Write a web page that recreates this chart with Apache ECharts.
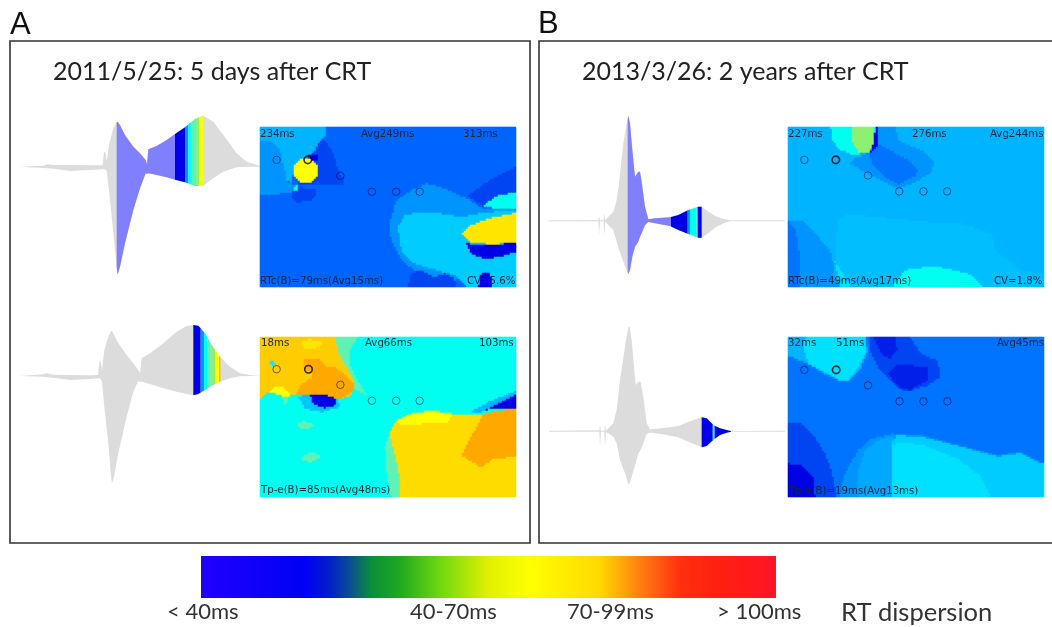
<!DOCTYPE html>
<html><head><meta charset="utf-8">
<style>html,body{margin:0;padding:0;background:#fff}#c{width:1052px;height:627px}</style>
<script src="https://cdn.jsdelivr.net/npm/echarts@6/dist/echarts.min.js"></script>
</head><body><div id="c"></div>
<script>
// ---- dispersion levels used by the maps and the coloured waveform bands
const levelNames = ['gray','wave','a','a2','b','c','c2','d','e','e2','e3','f','g','h','h2','i','j','k','k2','l','m','n','halo'];
const levelColors = ['#dcdcdc','#8080ff','#0000e6','#0020ea','#0044f2','#0064ff','#0074ff','#0094ff','#00b4ff','#00a8ff','#00bfff','#00ccff','#00e0ff','#00fff0','#24e4e8','#60f2b4','#8cf070','#ffe600','#ffdc00','#ffcc00','#ffa800','#ffff00','#00c4ff'];

// ---- waveforms: sample position, upper and lower envelope
const waveAX  = [30,100,115,130,180,240,278,282,287,290,298,310,320,323,330,345,370,390,407,411,415,440,470,495,525,555,580,610,640,680,710,750];
const waveAUp = [0,3,7,5,5,4,4,45,42,15,70,115,134,135,125,95,60,40,20,8,52,62,80,98,118,143,153,135,95,40,15,2];
const waveALo = [0,-4,-5,-6,-13,-10,-8,-8,-10,-12,-80,-200,-300,-324,-300,-230,-130,-65,-20,-22,-20,-25,-32,-39,-47,-58,-58,-35,-15,-2,0,0];
const waveABandFrom  = [320,495,525,535,545,558,568];
const waveABandTo    = [495,525,535,545,558,568,580];
const waveABandLevel = ['wave','a','d','h','i','j','n'];

const waveBX  = [30,100,110,130,180,240,264,268,272,276,283,295,303,306,312,325,350,370,385,390,395,420,460,500,530,550,565,585,605,630,660,690,720,750];
const waveBUp = [0,5,8,4,3,2,3,43,43,18,78,118,135,136,123,98,63,38,18,8,53,68,98,133,150,153,151,128,93,58,28,8,3,0];
const waveBLo = [0,-2,-4,-5,-12,-9,-7,-7,-10,-17,-92,-202,-302,-322,-302,-232,-122,-47,-14,-18,-17,-24,-37,-47,-54,-58,-54,-42,-29,-17,-7,-1,0,0];
const waveBBandFrom  = [550,572,582,592,602,615,622,628];
const waveBBandTo    = [572,582,592,602,615,622,628,631];
const waveBBandLevel = ['a','d','h','i','j','n','n','m'];

const waveCX  = [10,160,162,165,176,178,181,190,205,215,222,235,245,250,255,262,270,280,285,290,300,310,330,375,400,430,460,470,490,515,540,555,720];
const waveCUp = [1,2,14,1,1,22,1,12,27,62,112,232,292,314,292,212,132,147,147,117,42,4,7,10,17,32,42,42,27,12,4,1,1];
const waveCLo = [-2,-2,-46,-2,-2,-46,-3,-13,-28,-63,-88,-123,-148,-160,-148,-108,-78,-63,-48,-38,-13,-4,-8,-16,-28,-40,-51,-51,-38,-18,-6,-2,-2];
const waveCBandFrom  = [248,378,428,435,455,458];
const waveCBandTo    = [378,428,435,455,458,470];
const waveCBandLevel = ['wave','a','d','h','i','a'];

const waveDX  = [12,163,165,168,178,180,183,190,205,215,225,240,250,254,260,272,280,287,295,305,315,350,400,430,470,485,505,525,545,558,720];
const waveDUp = [1,2,18,1,1,21,1,8,23,63,153,253,313,313,273,138,148,148,103,23,5,8,15,28,41,38,18,8,3,0,1];
const waveDLo = [-2,-2,-47,-2,-2,-47,-3,-7,-17,-37,-87,-127,-159,-157,-137,-97,-67,-57,-37,-9,-5,-9,-19,-32,-49,-45,-27,-12,-5,-2,-2];
const waveDBandFrom  = [470,503,505,509];
const waveDBandTo    = [503,505,509,558];
const waveDBandLevel = ['a','d','h','a'];

// ---- maps: contour regions (painted in order) on a 771 x 482 map plane
const map1Base = 'c';
const map1Regions = [
 ['e',[[0,0],[201,0],[198,27],[176,52],[156,87],[136,97],[101,132],[96,167],[81,162],[61,67],[36,44],[0,42]]],
 ['d',[[0,42],[36,44],[61,67],[81,162],[106,177],[101,197],[46,204],[0,204]]],
 ['b',[[191,37],[211,62],[221,82],[236,132],[256,157],[251,172],[176,177],[136,177],[116,172],[136,97],[156,87],[176,52]]],
 ['a',[[146,87],[176,87],[176,102],[150,102]]],
 ['n',[[138,94],[158,99],[172,113],[177,132],[172,151],[158,165],[138,170],[118,165],[104,151],[99,132],[104,113],[118,99]]],
 ['b',[[96,197],[111,182],[166,187],[171,207],[151,224],[111,227],[96,217]]],
 ['h',[[106,177],[116,177],[114,194],[104,194]]],
 ['b',[[626,207],[706,152],[771,122],[771,197],[706,217],[676,244]]],
 ['d',[[391,302],[394,282],[411,222],[456,192],[501,170],[546,182],[626,217],[671,247],[771,250],[771,400],[590,462],[506,452],[466,432],[426,402],[396,342]]],
 ['f',[[416,302],[436,267],[476,257],[546,262],[606,272],[686,257],[771,252],[771,482],[626,482],[586,447],[516,427],[466,412],[426,372]]],
 ['h',[[671,237],[716,207],[771,197],[771,250],[726,250]]],
 ['k',[[606,322],[636,297],[686,277],[771,260],[771,347],[706,354],[636,350]]],
 ['a',[[623,352],[706,356],[771,348],[771,377],[726,392],[676,399],[636,382]]],
 ['b',[[446,482],[456,442],[486,432],[526,452],[556,442],[586,457],[591,482]]],
 ['a',[[658,482],[666,444],[686,437],[698,452],[701,482]]]
];
const map1Electrodes = [[50,99],[144,99],[242,147],[337,195],[410,195],[481,195]];

const map2Base = 'h';
const map2Regions = [
 ['i',[[226,0],[296,0],[271,42],[271,82],[296,132],[321,177],[286,157],[256,82],[236,42]]],
 ['l',[[0,187],[26,167],[46,150],[76,154],[96,177],[116,172],[176,172],[226,187],[266,182],[283,162],[283,132],[256,82],[236,42],[226,0],[0,0]]],
 ['k',[[126,14],[150,8],[182,12],[190,24],[165,36],[135,34]]],
 ['m',[[131,67],[176,67],[196,87],[226,92],[256,112],[283,142],[283,162],[256,182],[231,187],[186,172],[111,172],[121,147],[156,122],[161,107],[136,102]]],
 ['n',[[26,167],[46,150],[76,154],[96,177],[76,182],[46,170]]],
 ['halo',[[116,182],[146,172],[236,187],[241,212],[186,227],[136,217]]],
 ['a',[[151,172],[186,172],[231,187],[226,207],[196,214],[161,204]]],
 ['i',[[391,292],[376,332],[381,402],[396,482],[424,482],[424,432],[406,352]]],
 ['k2',[[391,292],[411,252],[456,232],[516,222],[576,232],[676,232],[771,217],[771,482],[424,482],[424,432],[406,352]]],
 ['n',[[411,252],[456,232],[516,222],[576,237],[566,257],[486,262],[426,267]]],
 ['m',[[676,230],[771,214],[771,362],[706,367],[666,394],[608,357],[636,302]]],
 ['e',[[626,232],[686,197],[771,162],[771,177],[666,227]]],
 ['a',[[666,227],[706,207],[771,174],[771,214],[706,215]]],
 ['i',[[108,264],[128,254],[150,258],[166,266],[148,276],[122,276]]],
 ['i',[[122,362],[150,350],[180,354],[178,368],[150,378],[130,374]]],
 ['i',[[68,182],[84,182],[80,206],[72,206]]],
 ['h2',[[30,72],[40,70],[48,80],[40,90],[32,84]]]
];
const map2Electrodes = [[50,97],[146,97],[242,144],[337,192],[410,192],[481,192]];

const map3Base = 'e';
const map3Regions = [
 ['e3',[[150,482],[145,340],[152,285],[180,262],[274,272],[420,286],[524,292],[614,322],[624,372],[704,432],[771,442],[771,482]]],
 ['d',[[259,0],[324,0],[334,42],[404,72],[439,102],[434,137],[384,167],[334,187],[284,162],[224,132],[189,112],[209,92],[249,77]]],
 ['c2',[[246,82],[274,52],[329,82],[364,102],[396,132],[379,152],[334,172],[294,152],[254,112]]],
 ['a',[[259,0],[274,0],[274,52],[246,80],[262,42]]],
 ['h',[[129,0],[264,0],[259,52],[244,77],[194,85],[154,67],[132,37]]],
 ['j',[[194,0],[262,0],[259,52],[242,79],[214,77],[192,42]]],
 ['d',[[0,282],[44,282],[84,322],[134,382],[139,447],[159,482],[0,482]]],
 ['c2',[[0,282],[24,312],[34,382],[34,482],[0,482]]],
 ['g',[[139,400],[159,430],[190,482],[160,482]]],
 ['h',[[314,482],[354,432],[434,420],[504,432],[554,447],[584,482]]]
];
const map3Electrodes = [[49,99],[144,99],[241,146],[335,194],[408,194],[479,194]];

const map4Base = 'c2';
const map4Regions = [
 ['e',[[0,0],[234,0],[240,42],[222,92],[182,132],[167,134],[112,112],[67,82],[0,57]]],
 ['g',[[57,0],[232,0],[237,42],[217,87],[182,132],[157,132],[112,107],[62,82],[45,30]]],
 ['b',[[247,0],[367,0],[402,52],[452,72],[459,122],[422,147],[372,162],[347,164],[307,132],[272,92],[247,42]]],
 ['a2',[[257,0],[322,0],[330,42],[307,67],[282,52]]],
 ['a2',[[332,82],[422,92],[422,132],[367,162],[332,152],[302,112]]],
 ['b',[[0,262],[42,262],[82,302],[112,352],[132,402],[147,482],[0,482]]],
 ['a',[[0,382],[42,387],[77,422],[82,482],[0,482]]],
 ['d',[[157,482],[172,412],[212,342],[252,307],[317,292],[402,297],[532,332],[632,357],[702,347],[771,382],[771,482]]],
 ['e2',[[210,482],[210,412],[232,342],[272,312],[322,297],[312,382],[312,482]]],
 ['f',[[312,482],[312,322],[327,297],[402,300],[532,334],[632,360],[702,350],[771,384],[771,482]]],
 ['g',[[312,482],[312,327],[342,317],[412,327],[512,367],[582,422],[612,482]]]
];
const map4Electrodes = [[49,99],[145,99],[241,146],[336,194],[408,194],[480,194]];

// ---- colour key
const keyStops  = [0,.18,.224,.26,.297,.346,.416,.5,.572,.694,.763,.833,.9,1];
const keyColors = ['#2000ff','#0000f5','#0020c8','#0a5090','#089038','#20a820','#70d810','#e0f000','#ffff00','#ffd800','#ff8010','#ff3010','#ff2010','#ff1428'];
const keyLabels = ['< 40ms','40-70ms','70-99ms','> 100ms'];
const keyTitle  = 'RT dispersion';

// ---- text
const panelLetters = ['A','B'];
const panelTitles  = ['2011/5/25: 5 days after CRT','2013/3/26: 2 years after CRT'];

// ---- layout
const mapCols = 128, mapRows = 80, mapW = 771, mapH = 482;
const waves = [
 {x:waveAX,up:waveAUp,lo:waveALo,from:waveABandFrom,to:waveABandTo,lv:waveABandLevel,box:[10,110,250,170],base:170,w:750},
 {x:waveBX,up:waveBUp,lo:waveBLo,from:waveBBandFrom,to:waveBBandTo,lv:waveBBandLevel,box:[10,320,250,170],base:168,w:750},
 {x:waveCX,up:waveCUp,lo:waveCLo,from:waveCBandFrom,to:waveCBandTo,lv:waveCBandLevel,box:[545,110,240,170],base:332,w:720},
 {x:waveDX,up:waveDUp,lo:waveDLo,from:waveDBandFrom,to:waveDBandTo,lv:waveDBandLevel,box:[545,320,240,170],base:333,w:720}
];
const maps = [
 {base:map1Base,regions:map1Regions,el:map1Electrodes,box:[260,127,256,160]},
 {base:map2Base,regions:map2Regions,el:map2Electrodes,box:[260,337,256,160]},
 {base:map3Base,regions:map3Regions,el:map3Electrodes,box:[788,127,256,160]},
 {base:map4Base,regions:map4Regions,el:map4Electrodes,box:[788,337,256,160]}
];

function inside(px,py,poly){
  let c=false;
  for(let i=0,j=poly.length-1;i<poly.length;j=i++){
    const [xi,yi]=poly[i],[xj,yj]=poly[j];
    if((yi>py)!==(yj>py)&&px<(xj-xi)*(py-yi)/(yj-yi)+xi)c=!c;
  }
  return c;
}
function matrix(m){
  const out=[];
  for(let r=0;r<mapRows;r++)for(let q=0;q<mapCols;q++){
    const px=(q+.5)*mapW/mapCols,py=(r+.5)*mapH/mapRows;
    let lv=m.base;
    for(const [l,p] of m.regions)if(inside(px,py,p))lv=l;
    out.push([q,r,levelNames.indexOf(lv)]);
  }
  return out;
}
function envelope(w,x){
  const X=w.x;
  for(let i=0;i<X.length-1;i++)if(x<=X[i+1]){
    const t=(x-X[i])/(X[i+1]-X[i]);
    return [w.up[i]+t*(w.up[i+1]-w.up[i]),w.lo[i]+t*(w.lo[i+1]-w.lo[i])];
  }
  return [w.up[X.length-1],w.lo[X.length-1]];
}

const grid=[],xAxis=[],yAxis=[],series=[];
const cats=n=>Array.from({length:n},(_,i)=>i);
function addGrid(box,xa,ya){
  grid.push({left:box[0],top:box[1],width:box[2],height:box[3],containLabel:false,show:false});
  const i=grid.length-1;
  xAxis.push(Object.assign({gridIndex:i,show:false},xa));
  yAxis.push(Object.assign({gridIndex:i,show:false},ya));
  return i;
}
waves.forEach(w=>{
  const g=addGrid(w.box,{type:'value',min:0,max:w.w},{type:'value',min:w.base-510,max:w.base,splitLine:{show:false}});
  const bands=[[w.x[0],w.x[w.x.length-1],'gray']].concat(w.from.map((f,i)=>[f,w.to[i],w.lv[i]]));
  series.push({type:'custom',xAxisIndex:g,yAxisIndex:g,z:1,silent:true,clip:false,
    data:bands.map(b=>[b[0],b[1],levelNames.indexOf(b[2])]),
    encode:{x:[0,1]},
    renderItem(p,api){
      const a=api.value(0),b=api.value(1);
      const xs=[a].concat(w.x.filter(v=>v>a&&v<b),[b]);
      const top=xs.map(v=>api.coord([v,envelope(w,v)[0]]));
      const bot=xs.map(v=>api.coord([v,envelope(w,v)[1]])).reverse();
      return {type:'polygon',shape:{points:top.concat(bot)},style:{fill:levelColors[api.value(2)]}};
    }});
});
maps.forEach(m=>{
  const g=addGrid(m.box,{type:'category',data:cats(mapCols)},{type:'category',data:cats(mapRows),inverse:true});
  series.push({type:'heatmap',xAxisIndex:g,yAxisIndex:g,data:matrix(m),z:2,silent:true,progressive:0,animation:false});
});
const heatIdx=series.map((s,i)=>s.type==='heatmap'?i:-1).filter(i=>i>=0);
maps.forEach(m=>{
  const g=addGrid(m.box,{type:'value',min:0,max:mapW},{type:'value',min:0,max:mapH,inverse:true,splitLine:{show:false}});
  series.push({type:'scatter',xAxisIndex:g,yAxisIndex:g,z:3,silent:true,symbol:'circle',symbolSize:7.5,
    data:m.el.map((e,i)=>({value:e,itemStyle:i===1?{color:'transparent',borderColor:'#000',borderWidth:1.6}:{color:'transparent',borderColor:'rgba(0,0,50,.68)',borderWidth:1}}))});
});

const ink='#222';
const sans='Lato, "Open Sans", sans-serif', dv='"DejaVu Sans", sans-serif';
const txt=(s,x,y,size,font,fill,align)=>({type:'text',z:50,x,y,style:{text:s,fontSize:size,fontFamily:font,fill:fill||ink,textAlign:align||'left',textVerticalAlign:'middle'}});
const mapInk='#12263c', mapSize=10.2;
const graphic=[
  {type:'rect',z:40,shape:{x:10,y:41,width:520,height:502},style:{fill:'none',stroke:'#333',lineWidth:1.6}},
  {type:'rect',z:40,shape:{x:539,y:41,width:530,height:502},style:{fill:'none',stroke:'#333',lineWidth:1.6}},
  txt(panelLetters[0],10,25,31,'"Liberation Sans"','#111'),
  txt(panelLetters[1],538,24,31,'"Liberation Sans"','#111'),
  txt(panelTitles[0],53,72,25,sans),
  txt(panelTitles[1],582,72,25,sans),
  {type:'rect',z:40,shape:{x:201,y:556,width:575,height:42},style:{fill:new echarts.graphic.LinearGradient(0,0,1,0,keyStops.map((o,i)=>({offset:o,color:keyColors[i]})))}},
  txt(keyLabels[0],167,612,22,sans,'#333'),
  txt(keyLabels[1],410,612,22,sans,'#333'),
  txt(keyLabels[2],567,612,22,sans,'#333'),
  txt(keyLabels[3],717,612,22,sans,'#333'),
  txt(keyTitle,841,613,25.5,sans,'#333'),
  txt('234ms',260,134,mapSize,dv,mapInk), txt('Avg249ms',361,134,mapSize,dv,mapInk), txt('313ms',463,134,mapSize,dv,mapInk),
  txt('RTc(B)=79ms(Avg15ms)',260,281,mapSize,dv,mapInk), txt('CV=5.6%',467,281,mapSize,dv,mapInk),
  txt('18ms',261,343,mapSize,dv,mapInk), txt('Avg66ms',365,343,mapSize,dv,mapInk), txt('103ms',479,343,mapSize,dv,mapInk),
  txt('Tp-e(B)=85ms(Avg48ms)',261,490,mapSize,dv,mapInk),
  txt('227ms',788,134,mapSize,dv,mapInk), txt('276ms',912,134,mapSize,dv,mapInk), txt('Avg244ms',990,134,mapSize,dv,mapInk),
  txt('RTc(B)=49ms(Avg17ms)',788,281,mapSize,dv,mapInk), txt('CV=1.8%',994,281,mapSize,dv,mapInk),
  txt('32ms',788,343,mapSize,dv,mapInk), txt('51ms',836,343,mapSize,dv,mapInk), txt('Avg45ms',997,343,mapSize,dv,mapInk),
  txt('Tp-e(B)=19ms(Avg13ms)',789,491,mapSize,dv,mapInk)
];

const chart=echarts.init(document.getElementById('c'),null,{renderer:'canvas'});
chart.setOption({
  animation:false,backgroundColor:'#fff',grid,xAxis,yAxis,series,graphic,
  visualMap:{show:false,type:'piecewise',seriesIndex:heatIdx,dimension:2,
    pieces:levelColors.map((c,i)=>({value:i,color:c}))}
});
</script></body></html>
